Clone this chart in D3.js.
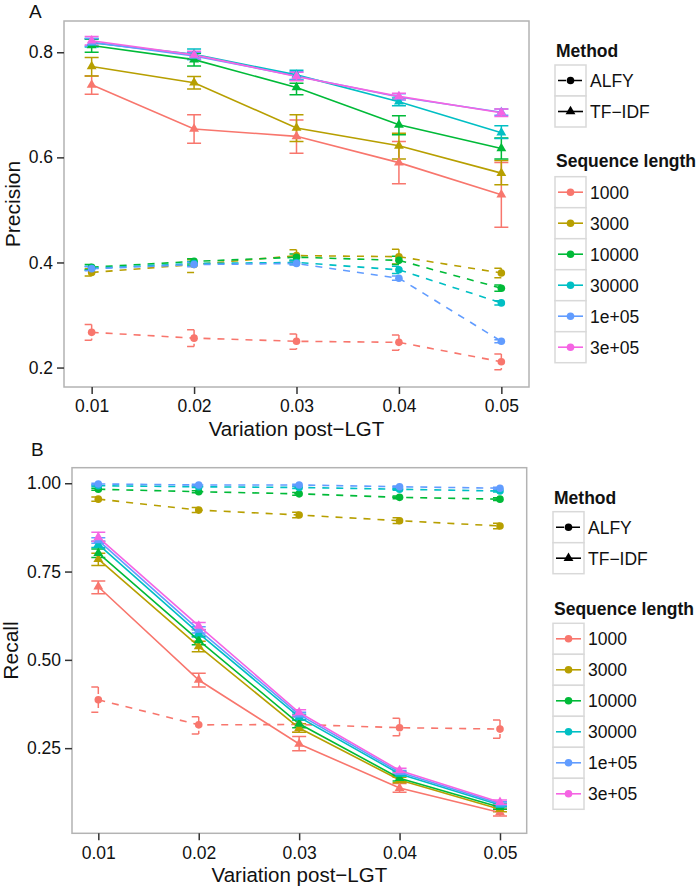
<!DOCTYPE html>
<html>
<head>
<meta charset="utf-8">
<script src="https://cdn.jsdelivr.net/npm/d3@7"></script>
<style>
  body { margin: 0; background: #fff; }
  text { font-family: "Liberation Sans", Arial, sans-serif; fill: #111; }
</style>
</head>
<body>
<div id="chart-area"></div>
<script>
// x values and category labels
var variation = [0.01, 0.02, 0.03, 0.04, 0.05];
var lengthLabels = ["1000", "3000", "10000", "30000", "1e+05", "3e+05"];
var methodLabels = ["ALFY", "TF\u2212IDF"];
var precisionTicks = [0.2, 0.4, 0.6, 0.8];
var recallTicks = [0.25, 0.5, 0.75, 1.0];

// Precision, TF-IDF (one row per sequence length)
var precTfidf = [
  [0.738, 0.654, 0.640, 0.590, 0.529],
  [0.773, 0.742, 0.656, 0.622, 0.570],
  [0.813, 0.786, 0.733, 0.662, 0.617],
  [0.818, 0.796, 0.757, 0.706, 0.647],
  [0.819, 0.793, 0.755, 0.715, 0.686],
  [0.822, 0.795, 0.754, 0.716, 0.685]
];
var precTfidfLo = [
  [0.720, 0.627, 0.608, 0.550, 0.467],
  [0.755, 0.730, 0.630, 0.597, 0.548],
  [0.800, 0.774, 0.719, 0.643, 0.597],
  [0.810, 0.786, 0.748, 0.698, 0.636],
  [0.812, 0.786, 0.747, 0.709, 0.680],
  [0.814, 0.788, 0.746, 0.710, 0.678]
];
var precTfidfHi = [
  [0.755, 0.681, 0.671, 0.630, 0.590],
  [0.790, 0.754, 0.681, 0.646, 0.594],
  [0.825, 0.798, 0.741, 0.679, 0.637],
  [0.826, 0.806, 0.766, 0.713, 0.660],
  [0.826, 0.800, 0.763, 0.721, 0.692],
  [0.830, 0.802, 0.762, 0.722, 0.692]
];

// Precision, ALFY (no 3e+05 series)
var precAlfy = [
  [0.267, 0.256, 0.250, 0.248, 0.211],
  [0.381, 0.396, 0.413, 0.411, 0.380],
  [0.391, 0.402, 0.410, 0.404, 0.351],
  [0.389, 0.398, 0.400, 0.386, 0.323],
  [0.388, 0.396, 0.398, 0.370, 0.250]
];
var precAlfyLo = [
  [0.252, 0.240, 0.235, 0.233, 0.196],
  [0.374, 0.381, 0.402, 0.397, 0.371],
  [0.386, 0.397, 0.404, 0.396, 0.345],
  [0.385, 0.394, 0.396, 0.379, 0.319],
  [0.384, 0.392, 0.395, 0.366, 0.247]
];
var precAlfyHi = [
  [0.282, 0.272, 0.264, 0.262, 0.226],
  [0.388, 0.405, 0.424, 0.425, 0.389],
  [0.396, 0.407, 0.416, 0.412, 0.357],
  [0.393, 0.402, 0.404, 0.393, 0.327],
  [0.392, 0.400, 0.401, 0.374, 0.253]
];

// Recall, TF-IDF
var recTfidf = [
  [0.707, 0.443, 0.262, 0.137, 0.068],
  [0.785, 0.538, 0.307, 0.160, 0.077],
  [0.802, 0.555, 0.319, 0.165, 0.083],
  [0.827, 0.575, 0.338, 0.177, 0.089],
  [0.838, 0.585, 0.345, 0.182, 0.093],
  [0.847, 0.596, 0.351, 0.187, 0.097]
];
var recTfidfLo = [
  [0.687, 0.423, 0.243, 0.125, 0.058],
  [0.767, 0.523, 0.295, 0.152, 0.070],
  [0.790, 0.543, 0.308, 0.157, 0.077],
  [0.818, 0.565, 0.330, 0.171, 0.084],
  [0.830, 0.576, 0.338, 0.177, 0.088],
  [0.836, 0.586, 0.343, 0.181, 0.091]
];
var recTfidfHi = [
  [0.723, 0.462, 0.283, 0.150, 0.078],
  [0.802, 0.553, 0.319, 0.168, 0.084],
  [0.814, 0.567, 0.330, 0.173, 0.089],
  [0.836, 0.585, 0.346, 0.183, 0.094],
  [0.846, 0.594, 0.352, 0.187, 0.098],
  [0.861, 0.606, 0.359, 0.193, 0.103]
];

// Recall, ALFY
var recAlfy = [
  [0.387, 0.316, 0.317, 0.308, 0.304],
  [0.955, 0.924, 0.910, 0.894, 0.879],
  [0.983, 0.976, 0.970, 0.960, 0.955],
  [0.993, 0.990, 0.988, 0.983, 0.978],
  [0.998, 0.995, 0.995, 0.990, 0.986]
];
var recAlfyLo = [
  [0.352, 0.290, 0.295, 0.285, 0.278],
  [0.949, 0.917, 0.902, 0.886, 0.871],
  [0.980, 0.973, 0.966, 0.956, 0.951],
  [0.991, 0.988, 0.985, 0.980, 0.975],
  [0.996, 0.993, 0.993, 0.988, 0.983]
];
var recAlfyHi = [
  [0.423, 0.339, 0.340, 0.335, 0.330],
  [0.961, 0.931, 0.918, 0.902, 0.887],
  [0.986, 0.979, 0.974, 0.964, 0.959],
  [0.995, 0.992, 0.991, 0.986, 0.981],
  [1.000, 0.997, 0.997, 0.992, 0.989]
];

var color = d3.scaleOrdinal()
  .domain(lengthLabels)
  .range(["#F8766D", "#B79F00", "#00BA38", "#00BFC4", "#619CFF", "#F564E3"]);

var svg = d3.select("#chart-area").append("svg")
  .attr("width", 700).attr("height", 888);

var dash = "7,7";
var tri = d3.symbol().type(d3.symbolTriangle).size(42);

// build series objects from the arrays
function makeSeries(mean, lo, hi, method) {
  return mean.map(function(row, i) {
    return {
      len: lengthLabels[i],
      method: method,
      values: row.map(function(v, j) {
        return {x: variation[j], y: v, lo: lo[i][j], hi: hi[i][j]};
      })
    };
  });
}

function drawPanel(o) {
  var g = svg.append("g");
  var x = d3.scaleLinear().domain(o.xDomain).range(o.xRange);
  var y = d3.scaleLinear().domain(o.yDomain).range(o.yRange);

  g.append("rect")
    .attr("x", o.xRange[0]).attr("y", o.yRange[1])
    .attr("width", o.xRange[1] - o.xRange[0])
    .attr("height", o.yRange[0] - o.yRange[1])
    .attr("fill", "#fff").attr("stroke", "#b3b3b3").attr("stroke-width", 1.5);

  var xAxis = d3.axisBottom(x).tickValues(variation)
    .tickFormat(d3.format(".2f")).tickSize(7).tickPadding(6);
  var yAxis = d3.axisLeft(y).tickValues(o.yTicks)
    .tickFormat(d3.format(o.yFormat)).tickSize(7).tickPadding(4);

  var gx = g.append("g").attr("transform", "translate(0," + o.yRange[0] + ")").call(xAxis);
  var gy = g.append("g").attr("transform", "translate(" + o.xRange[0] + ",0)").call(yAxis);
  [gx, gy].forEach(function(a) {
    a.select(".domain").remove();
    a.selectAll(".tick line").attr("stroke", "#333").attr("stroke-width", 1.5);
    a.selectAll(".tick text").attr("font-size", 17.5).attr("fill", "#111")
      .attr("font-family", "Liberation Sans, Arial, sans-serif");
  });

  var line = d3.line().x(function(d) { return x(d.x); }).y(function(d) { return y(d.y); });
  var all = o.alfy.concat(o.tfidf);
  var cap = 7;

  // error bars
  all.forEach(function(s) {
    g.append("g").selectAll("path")
      .data(s.values).enter().append("path")
      .attr("d", function(d) {
        var cx = x(d.x), t = y(d.hi), b = y(d.lo);
        return "M" + (cx - cap) + "," + t + "H" + (cx + cap) + "M" + cx + "," + t +
          "V" + b + "M" + (cx - cap) + "," + b + "H" + (cx + cap);
      })
      .attr("fill", "none").attr("stroke", color(s.len)).attr("stroke-width", 1.5)
      .attr("stroke-dasharray", s.method === "ALFY" ? dash : null);
  });

  // lines
  all.forEach(function(s) {
    g.append("path").datum(s.values)
      .attr("d", line).attr("fill", "none")
      .attr("stroke", color(s.len)).attr("stroke-width", 1.6)
      .attr("stroke-dasharray", s.method === "ALFY" ? dash : null);
  });

  // points
  o.alfy.forEach(function(s) {
    g.append("g").selectAll("circle").data(s.values).enter().append("circle")
      .attr("cx", function(d) { return x(d.x); })
      .attr("cy", function(d) { return y(d.y); })
      .attr("r", 3.8).attr("fill", color(s.len));
  });
  o.tfidf.forEach(function(s) {
    g.append("g").selectAll("path").data(s.values).enter().append("path")
      .attr("d", tri)
      .attr("transform", function(d) { return "translate(" + x(d.x) + "," + y(d.y) + ")"; })
      .attr("fill", color(s.len));
  });

  // titles
  svg.append("text").attr("x", o.tag[0]).attr("y", o.tag[1])
    .attr("font-size", 19).text(o.tagText);
  svg.append("text")
    .attr("x", (o.xRange[0] + o.xRange[1]) / 2).attr("y", o.xTitleY)
    .attr("text-anchor", "middle").attr("font-size", 20.5)
    .text("Variation post\u2212LGT");
  svg.append("text")
    .attr("transform", "translate(" + o.yTitleX + "," + (o.yRange[0] + o.yRange[1]) / 2 + ") rotate(-90)")
    .attr("text-anchor", "middle").attr("font-size", 21)
    .text(o.yTitle);

  drawLegend(o.legend);
}

function drawLegend(L) {
  var k = 31, g = svg.append("g");
  var lx = L.x;
  g.append("text").attr("x", lx + 1).attr("y", L.methodTitleY)
    .attr("font-size", 17.5).attr("font-weight", "bold").text("Method");
  methodLabels.forEach(function(m, i) {
    var top = L.methodTop + i * k, cy = top + k / 2;
    g.append("rect").attr("x", lx).attr("y", top).attr("width", k).attr("height", k)
      .attr("fill", "#fff").attr("stroke", "#d9d9d9").attr("stroke-width", 1.5);
    g.append("line").attr("x1", lx + 3).attr("x2", lx + k - 3).attr("y1", cy).attr("y2", cy)
      .attr("stroke", "#000").attr("stroke-width", 1.6)
      .attr("stroke-dasharray", i === 0 ? "8,8,8" : null);
    if (i === 0) {
      g.append("circle").attr("cx", lx + k / 2).attr("cy", cy).attr("r", 3.8).attr("fill", "#000");
    } else {
      g.append("path").attr("d", tri).attr("transform", "translate(" + (lx + k / 2) + "," + cy + ")")
        .attr("fill", "#000");
    }
    g.append("text").attr("x", lx + k + 4).attr("y", cy + 6.3)
      .attr("font-size", 17.5).text(m);
  });
  g.append("text").attr("x", lx + 1).attr("y", L.seqTitleY)
    .attr("font-size", 17.5).attr("font-weight", "bold").text("Sequence length");
  lengthLabels.forEach(function(s, i) {
    var top = L.seqTop + i * k, cy = top + k / 2;
    g.append("rect").attr("x", lx).attr("y", top).attr("width", k).attr("height", k)
      .attr("fill", "#fff").attr("stroke", "#d9d9d9").attr("stroke-width", 1.5);
    g.append("line").attr("x1", lx + 3).attr("x2", lx + k - 3).attr("y1", cy).attr("y2", cy)
      .attr("stroke", color(s)).attr("stroke-width", 1.6);
    g.append("circle").attr("cx", lx + k / 2).attr("cy", cy).attr("r", 3.8).attr("fill", color(s));
    g.append("text").attr("x", lx + k + 4).attr("y", cy + 6.3)
      .attr("font-size", 17.5).text(s);
  });
}

drawPanel({
  xDomain: [0.0073, 0.0527], xRange: [64, 529],
  yDomain: [0.163, 0.8595], yRange: [387, 21],
  yTicks: precisionTicks, yFormat: ".1f",
  alfy: makeSeries(precAlfy, precAlfyLo, precAlfyHi, "ALFY"),
  tfidf: makeSeries(precTfidf, precTfidfLo, precTfidfHi, "TF-IDF"),
  tag: [29, 18], tagText: "A",
  xTitleY: 435.5, yTitleX: 20, yTitle: "Precision",
  legend: {x: 555, methodTitleY: 57, methodTop: 65, seqTitleY: 167, seqTop: 176.7}
});

drawPanel({
  xDomain: [0.00738, 0.05266], xRange: [72, 526.7],
  yDomain: [0.009, 1.044], yRange: [833.3, 467.7],
  yTicks: recallTicks, yFormat: ".2f",
  alfy: makeSeries(recAlfy, recAlfyLo, recAlfyHi, "ALFY"),
  tfidf: makeSeries(recTfidf, recTfidfLo, recTfidfHi, "TF-IDF"),
  tag: [31, 456], tagText: "B",
  xTitleY: 882, yTitleX: 18, yTitle: "Recall",
  legend: {x: 553, methodTitleY: 504, methodTop: 511.7, seqTitleY: 615, seqTop: 623.3}
});
</script>
</body>
</html>
